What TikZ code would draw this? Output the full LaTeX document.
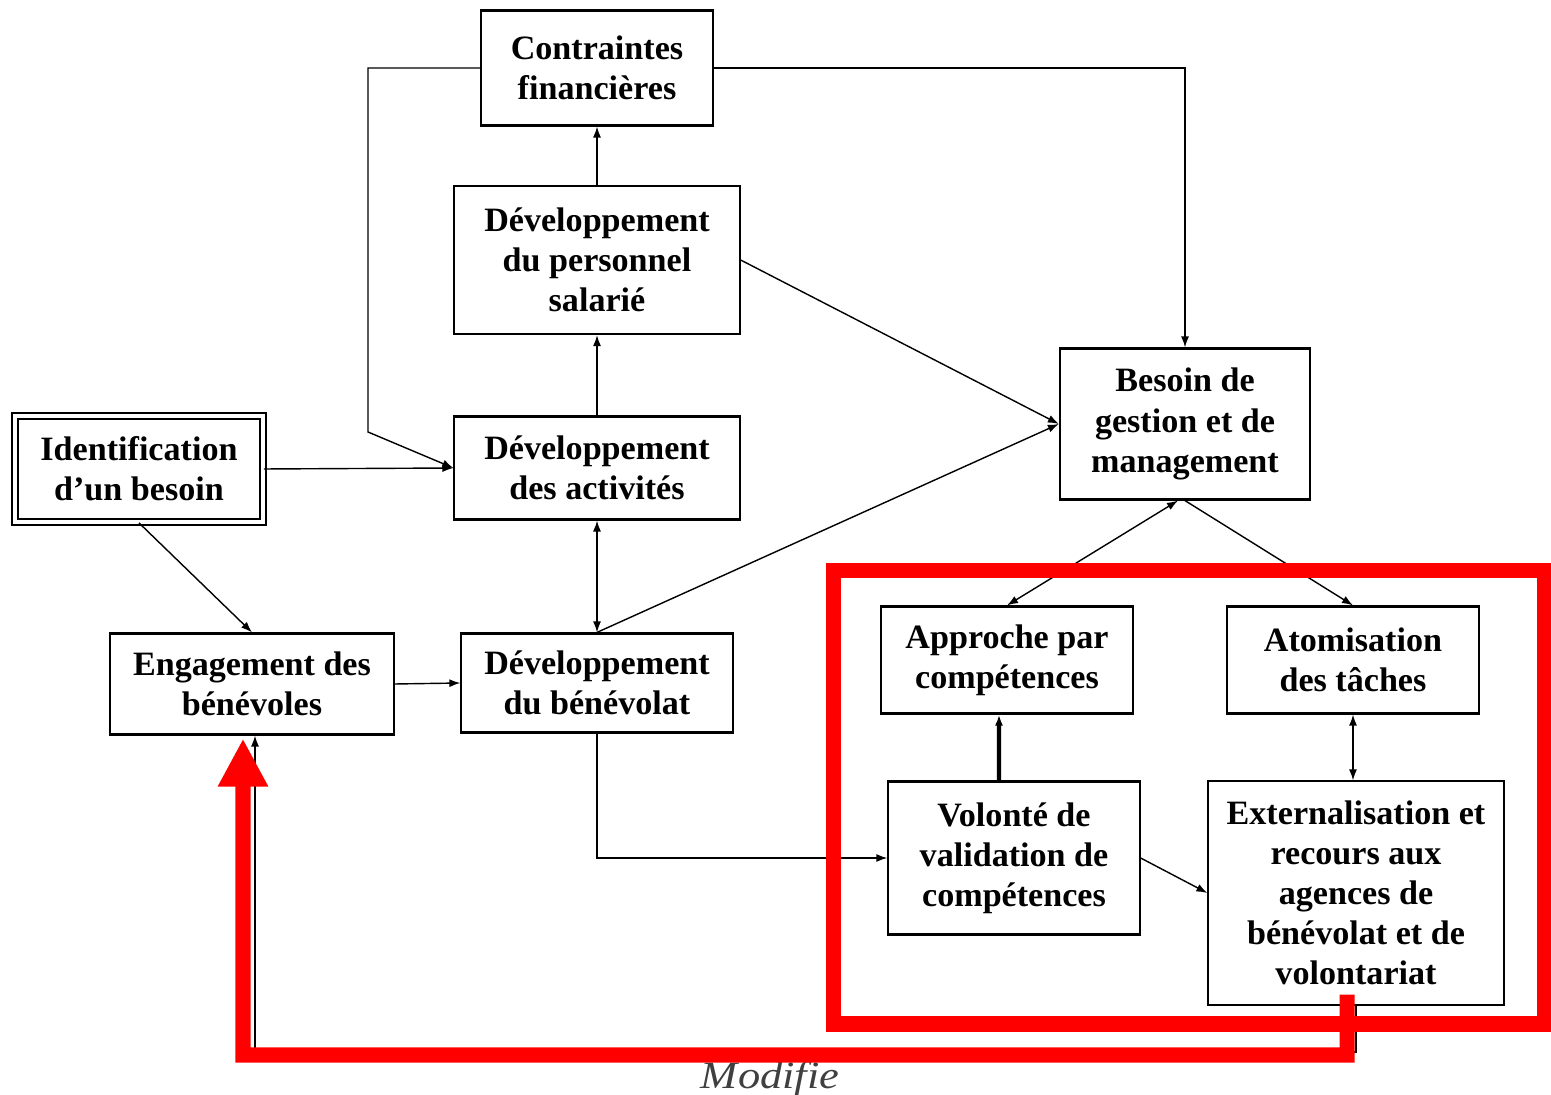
\documentclass[tikz,border=0pt]{standalone}
\usepackage{fontspec}
\setmainfont{Liberation Serif}
\usetikzlibrary{arrows,arrows.meta}

\begin{document}
\begin{tikzpicture}[x=0.01cm, y=-0.01cm,
    >={Latex[length=0.11cm,width=0.08cm]},
    every node/.style={
    rectangle,
    inner sep=2pt,
    draw,
    line width=0.6pt,
    align=center,
    font=\bfseries\fontsize{9.7}{11.4}\selectfont
}]
    \useasboundingbox (0,0) rectangle (1551,1095);

    \node (contraintes_financieres) [shift={(597,68)}, minimum width=2.31cm, minimum height=1.15cm]
    {
        Contraintes\\financières
    };
    \node (developpement_personnel) [shift={(597,260)}, minimum width=2.85cm, minimum height=1.48cm]
    {
        Développement\\du personnel\\salarié
    };
    \node (developpement_activites) [shift={(597,468)}, minimum width=2.85cm, minimum height=1.03cm]
    {
        Développement\\des activités
    };
    \node (identification_besoin) [shift={(139,469)}, minimum width=2.48cm, minimum height=1.06cm,
        double, double distance=1.3pt, line width=0.5pt]
    {
        Identification\\d’un besoin
    };
    \node (engagement_benevoles) [shift={(252,684)}, minimum width=2.84cm, minimum height=1.01cm]
    {
        Engagement des\\bénévoles
    };
    \node (developpement_benevolat) [shift={(597,683)}, minimum width=2.71cm, minimum height=0.99cm]
    {
        Développement\\du bénévolat
    };


    \node (besoin_gestion) [shift={(1185,424)}, minimum width=2.5cm, minimum height=1.51cm]
    {
        Besoin de\\gestion et de\\management
    };
    \node (approche_competences) [shift={(1007,660)}, minimum width=2.51cm, minimum height=1.07cm]
    {
        Approche par\\compétences
    };
    \node (atomisation_taches) [shift={(1353,660)}, minimum width=2.51cm, minimum height=1.07cm]
    {
        Atomisation\\des tâches
    };
    \node (volonte_validation) [shift={(1014,858)}, minimum width=2.51cm, minimum height=1.53cm]
    {
        Volonté de\\validation de\\compétences
    };
    \node (externalisation) [shift={(1356,893)}, minimum width=2.95cm, minimum height=2.23cm]
    {
        Externalisation et\\recours aux\\agences de\\bénévolat et de\\volontariat
    };

    \node (modifie) [draw=none, anchor=base, shift={(775,1089)}, inner sep=0pt, text=black!75,
        font=\itshape\fontsize{11}{11}\selectfont]
    {
        \scalebox{1.15}[1]{Modifie}
    };

    \coordinate (coude_gauche) at (368,432);
    \coordinate (coude_droit) at (1185,68);
    \coordinate (coude_bas) at (255,1052);
    \coordinate (coude_rouge) at (243,1055);

    \draw[->, thin] (developpement_personnel) to (contraintes_financieres);
    \draw[->, thin] (developpement_activites) to (developpement_personnel);
    \draw[->, thin] (contraintes_financieres.west) -| (coude_gauche) -- (developpement_activites.west);
    \draw[->, thin] (contraintes_financieres.east) -- (coude_droit) -- (besoin_gestion.north);

    \draw[->, thin] (identification_besoin.east) to (developpement_activites.west);
    \draw[->, thin] (identification_besoin.south) to (engagement_benevoles.north);
    \draw[->, thin] (engagement_benevoles.east) to (developpement_benevolat.west);
    \draw[<->, thin] (developpement_activites.south) to (developpement_benevolat.north);

    \draw[->, thin] (developpement_personnel.east) to (besoin_gestion.west);
    \draw[->, thin] (developpement_benevolat.north) to (besoin_gestion.west);

    \draw[<->, thin] ([xshift=-0.07cm]besoin_gestion.south) to (approche_competences.north);
    \draw[->, thin] (besoin_gestion.south) to (atomisation_taches.north);
    \draw[->, line width=1.2pt] ([xshift=-0.15cm]volonte_validation.north) to ([xshift=-0.08cm]approche_competences.south);
    \draw[<->, thin] (atomisation_taches.south) to (atomisation_taches.south |- externalisation.north);
    \draw[->, thin] (developpement_benevolat.south) |- (volonte_validation.west);
    \draw[->, thin] (volonte_validation.east) to (externalisation.west);

    \draw[->, thin] (externalisation.south) |- (coude_bas) -- (coude_bas |- engagement_benevoles.south);

    % cadre et fleche rouges
    \draw[red, line width=0.15cm] (833,571) rectangle (1544,1024);
    \draw[-{Triangle[width=0.47cm,length=0.48cm]}, red, line width=0.15cm]
        ([xshift=-0.09cm,yshift=0.11cm]externalisation.south) |- (coude_rouge)
        -- ([xshift=-0.09cm,yshift=-0.03cm]engagement_benevoles.south);
\end{tikzpicture}
\end{document}
